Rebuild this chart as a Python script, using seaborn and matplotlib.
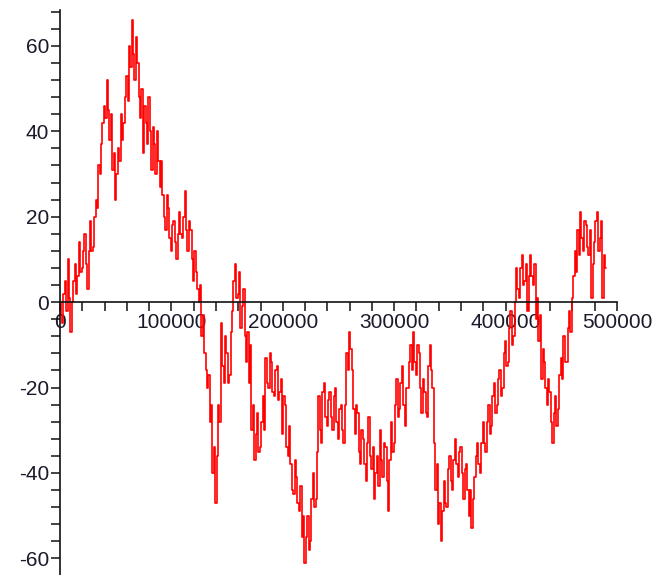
import numpy as np
import pandas as pd
import matplotlib
matplotlib.use("Agg")
import matplotlib.pyplot as plt
from matplotlib.ticker import MultipleLocator
import seaborn as sns

# random walk position, one value every 1250 steps
STEP = 1250
walk = [
    0, -3, -5, 2, 5, -2, 10, 1, -7, 0,
    5, 9, 2, 6, 14, 7, 8, 12, 16, 9,
    3, 12, 19, 12, 13, 20, 24, 22, 32, 30,
    37, 42, 46, 43, 52, 45, 38, 44, 31, 35,
    24, 30, 36, 33, 44, 38, 42, 48, 53, 47,
    60, 55, 66, 58, 52, 62, 56, 48, 43, 50,
    35, 46, 42, 37, 48, 40, 31, 41, 37, 30,
    40, 33, 27, 33, 25, 20, 17, 25, 22, 15,
    12, 18, 19, 14, 10, 16, 21, 16, 15, 20,
    26, 17, 12, 19, 17, 10, 5, 12, 7, 3,
    0, 4, -8, -3, -12, -16, -20, -17, -28, -24,
    -40, -34, -47, -36, -24, -28, -5, -15, -19, -8,
    -12, -19, -17, -7, -2, 5, 9, 1, 2, 7,
    -6, -1, 3, -8, -14, -7, -19, -10, -30, -24,
    -37, -31, -26, -35, -34, -28, -22, -30, -13, -19,
    -20, -12, -14, -21, -22, -16, -15, -23, -21, -18,
    -31, -22, -24, -34, -36, -29, -38, -44, -45, -37,
    -41, -47, -49, -43, -55, -50, -61, -55, -50, -58,
    -56, -46, -40, -48, -46, -35, -22, -30, -33, -21,
    -19, -27, -29, -23, -21, -27, -30, -22, -20, -28,
    -32, -25, -24, -30, -33, -24, -12, -16, -7, -11,
    -16, -25, -31, -24, -26, -35, -38, -30, -32, -38,
    -42, -33, -27, -36, -39, -34, -46, -40, -36, -43,
    -30, -37, -41, -33, -34, -42, -49, -37, -28, -35,
    -33, -24, -18, -27, -25, -19, -15, -24, -29, -20,
    -20, -14, -10, -16, -7, -14, -17, -10, -12, -20,
    -26, -18, -21, -26, -27, -15, -10, -16, -20, -33,
    -44, -38, -52, -47, -56, -49, -42, -47, -48, -39,
    -36, -42, -44, -37, -32, -38, -41, -35, -34, -40,
    -46, -39, -38, -44, -50, -44, -53, -46, -41, -36,
    -33, -38, -40, -33, -28, -33, -35, -28, -24, -31,
    -29, -22, -19, -26, -24, -18, -16, -22, -20, -12,
    -9, -15, -14, -6, -2, -10, -8, 0, 8, 3,
    1, 8, 11, 4, 5, 9, -2, 6, 11, 6,
    4, 9, -4, 1, -9, -3, -18, -11, -14, -20,
    -24, -18, -21, -28, -33, -26, -22, -29, -25, -17,
    -13, -18, -8, -14, -14, -6, -2, -7, 1, 6,
    12, 7, 17, 11, 21, 15, 12, 19, 18, 13,
    11, 17, 1, 9, 14, 19, 21, 12, 15, 19,
    1, 11, 8,
]
steps = np.arange(len(walk)) * STEP

x_ticks = [0, 100000, 200000, 300000, 400000, 500000]
y_ticks = [-60, -40, -20, 0, 20, 40, 60]

df = pd.DataFrame({"n": steps, "pos": walk})

sns.set_style("white")
plt.rcParams["font.family"] = ["Liberation Sans", "DejaVu Sans"]

fig = plt.figure(figsize=(6.56, 5.75), dpi=100)
ax = fig.add_axes([60 / 656, 0.0, 557 / 656, 1 - 10 / 575])

# steps-mid gives the near vertical strokes of a dense walk
sns.lineplot(data=df, x="n", y="pos", color="#ff0000", lw=1.2,
             drawstyle="steps-mid", ax=ax)

ax.set_xlim(0, 500000)
ax.set_ylim(-63.9, 68.4)

# maple style axes crossing at the origin
ax.spines["top"].set_visible(False)
ax.spines["right"].set_visible(False)
ax.spines["bottom"].set_position(("data", 0))
for s in ("left", "bottom"):
    ax.spines[s].set_linewidth(1.2)
    ax.spines[s].set_color("#111111")

ax.set_xticks(x_ticks)
ax.set_xticklabels([str(v) for v in x_ticks])
ax.set_yticks(y_ticks)
ax.set_yticklabels([str(v) for v in y_ticks])
ax.xaxis.set_minor_locator(MultipleLocator(20000))
ax.yaxis.set_minor_locator(MultipleLocator(4))
ax.tick_params(which="both", direction="out", length=6.5, width=1.1,
               color="#111111", bottom=True, left=True)
ax.tick_params(which="major", labelsize=15, labelcolor="#1a1a2a", pad=1.5)

ax.set_xlabel("")
ax.set_ylabel("")
ax.patch.set_alpha(0)

fig.savefig("out.png", dpi=100)
